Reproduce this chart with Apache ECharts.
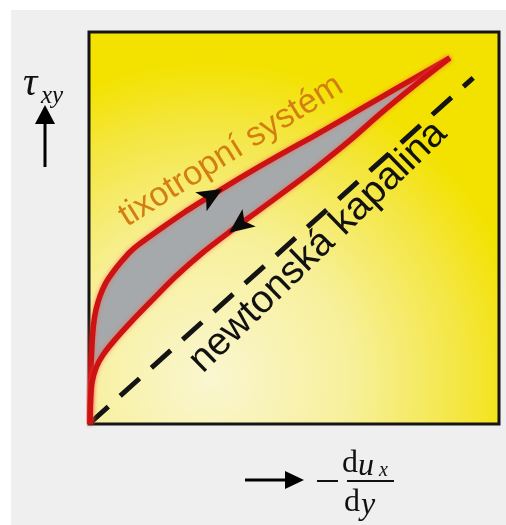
<!DOCTYPE html>
<html>
<head>
<meta charset="utf-8">
<script src="https://cdn.jsdelivr.net/npm/echarts@6/dist/echarts.min.js"></script>
<style>
  html, body { margin: 0; padding: 0; background: #ffffff; }
  #paper { position: absolute; left: 11px; top: 10px; right: 0; bottom: 0; background: #efefef; }
  #chart { position: absolute; left: 0; top: 0; width: 506px; height: 525px; }
</style>
</head>
<body>
<div id="paper"></div>
<div id="chart"></div>
<script>
// Shear stress vs. shear rate: thixotropic hysteresis loop and a Newtonian liquid.
// Both axes are normalised to 0..100.

// loading branch (upper curve)
const upX = [0.24, 0.37, 0.49, 0.73, 1.1, 1.7, 2.7, 4.1, 5.9, 7.8, 10.0, 12.4, 17.3, 23.4, 30.0, 38.0, 46.1, 54.4, 62.9, 71.0, 79.0, 88.0];
const upY = [0, 6.1, 13.8, 20.2, 25.3, 29.1, 32.7, 36.0, 38.8, 41.3, 43.9, 46.0, 49.7, 54.1, 58.4, 63.5, 68.4, 73.2, 78.3, 83.2, 88.0, 93.4];

// unloading branch (lower curve)
const downX = [0.24, 0.37, 0.73, 1.7, 3.4, 6.1, 10.5, 15.4, 21.0, 27.6, 33.9, 41.2, 49.5, 55.9, 63.7, 71.0, 79.0, 88.0];
const downY = [0, 6.1, 10.5, 14.3, 17.6, 21.2, 26.3, 31.6, 37.5, 43.6, 48.7, 54.3, 60.7, 65.8, 72.4, 79.1, 86.0, 93.4];

// Newtonian liquid: straight line through the origin
const newtonX = [0, 93.7];
const newtonY = [0, 88.3];

// direction arrows: [x, y, towards x, towards y]
const arrowMarks = [
  [29.4, 58.0, 33.4, 60.5],
  [37.1, 51.1, 33.0, 47.9]
];

const zip = (xs, ys) => xs.map((x, i) => [x, ys[i]]);
const upper = zip(upX, upY);
const lower = zip(downX, downY);
const newton = zip(newtonX, newtonY);

const chart = echarts.init(document.getElementById('chart'), null, { renderer: 'canvas' });

const serif = '"Liberation Serif", "DejaVu Serif", serif';
const sans = '"Liberation Sans", Arial, sans-serif';

const redLine = { color: '#cc1212', width: 5.5, shadowColor: 'rgba(255,90,70,0.7)', shadowBlur: 4 };

chart.setOption({
  animation: false,
  grid: {
    left: 89, top: 32, width: 410, height: 392,
    show: true,
    borderColor: '#151515',
    borderWidth: 3,
    backgroundColor: new echarts.graphic.RadialGradient(0.3, 0.88, 0.8, [
      { offset: 0, color: '#faf6d0' },
      { offset: 0.45, color: '#f7f09a' },
      { offset: 0.8, color: '#f4e640' },
      { offset: 1, color: '#f3e200' }
    ])
  },
  xAxis: { type: 'value', min: 0, max: 100, show: false },
  yAxis: { type: 'value', min: 0, max: 100, show: false },
  series: [
    {
      // grey area enclosed by the hysteresis loop
      type: 'custom',
      data: [0],
      clip: false,
      z: 1,
      renderItem: function (params, api) {
        const pts = upper.map(p => api.coord(p))
          .concat(lower.slice().reverse().map(p => api.coord(p)));
        return { type: 'polygon', shape: { points: pts }, style: { fill: '#a6a9ab' } };
      }
    },
    {
      type: 'line',
      data: newton,
      showSymbol: false,
      clip: false,
      z: 2,
      lineStyle: { color: '#141414', width: 5, type: [26, 16], cap: 'butt' }
    },
    {
      type: 'line',
      data: upper,
      smooth: 0.25,
      showSymbol: false,
      clip: false,
      z: 3,
      lineStyle: redLine
    },
    {
      type: 'line',
      data: lower,
      smooth: 0.25,
      showSymbol: false,
      clip: false,
      z: 3,
      lineStyle: redLine
    },
    {
      // arrowheads showing the direction of the loop
      type: 'custom',
      data: arrowMarks,
      clip: false,
      z: 4,
      renderItem: function (params, api) {
        const p = api.coord([api.value(0), api.value(1)]);
        const q = api.coord([api.value(2), api.value(3)]);
        const a = Math.atan2(q[1] - p[1], q[0] - p[0]);
        const L = 25, W = 11;
        const ca = Math.cos(a), sa = Math.sin(a);
        const tip = [p[0] + ca * L * 0.6, p[1] + sa * L * 0.6];
        const back = [p[0] - ca * L * 0.4, p[1] - sa * L * 0.4];
        return {
          type: 'polygon',
          shape: { points: [
            tip,
            [back[0] - sa * W, back[1] + ca * W],
            [back[0] + ca * 6, back[1] + sa * 6],
            [back[0] + sa * W, back[1] - ca * W]
          ] },
          style: { fill: '#0a0a0a' }
        };
      }
    }
  ],
  graphic: [
    {
      type: 'text', x: 231, y: 151, rotation: 32 * Math.PI / 180, z: 10,
      style: { text: 'tixotropní systém', fontFamily: sans, fontSize: 34, fill: '#d47e12', align: 'center', verticalAlign: 'middle' }
    },
    {
      type: 'text', x: 318, y: 247, rotation: 44.2 * Math.PI / 180, z: 10,
      style: { text: 'newtonská kapalina', fontFamily: sans, fontSize: 39, fill: '#111111', align: 'center', verticalAlign: 'middle' }
    },
    // vertical axis label
    {
      type: 'text', x: 23, y: 84, z: 10,
      style: { text: 'τ', fontFamily: serif, fontStyle: 'italic', fontSize: 40, fill: '#111', align: 'left', verticalAlign: 'middle' }
    },
    {
      type: 'text', x: 41, y: 96, z: 10,
      style: { text: 'xy', fontFamily: serif, fontStyle: 'italic', fontSize: 25, fill: '#111', align: 'left', verticalAlign: 'middle' }
    },
    {
      type: 'line', z: 10,
      shape: { x1: 45, y1: 167, x2: 45, y2: 120 },
      style: { stroke: '#000', lineWidth: 3 }
    },
    {
      type: 'polygon', z: 10,
      shape: { points: [[45, 105], [35, 124], [55, 124]] },
      style: { fill: '#000' }
    },
    // horizontal axis label
    {
      type: 'line', z: 10,
      shape: { x1: 245, y1: 480, x2: 288, y2: 480 },
      style: { stroke: '#000', lineWidth: 3 }
    },
    {
      type: 'polygon', z: 10,
      shape: { points: [[304, 480], [285, 471], [285, 489]] },
      style: { fill: '#000' }
    },
    {
      type: 'line', z: 10,
      shape: { x1: 317, y1: 481, x2: 338, y2: 481 },
      style: { stroke: '#111', lineWidth: 2 }
    },
    {
      type: 'line', z: 10,
      shape: { x1: 347, y1: 481, x2: 394, y2: 481 },
      style: { stroke: '#111', lineWidth: 2 }
    },
    {
      type: 'text', x: 342, y: 464, z: 10,
      style: { text: 'd', fontFamily: serif, fontSize: 32, fill: '#111', align: 'left', verticalAlign: 'middle' }
    },
    {
      type: 'text', x: 358, y: 467, z: 10,
      style: { text: 'u', fontFamily: serif, fontStyle: 'italic', fontSize: 32, fill: '#111', align: 'left', verticalAlign: 'middle' }
    },
    {
      type: 'text', x: 379, y: 471, z: 10,
      style: { text: 'x', fontFamily: serif, fontStyle: 'italic', fontSize: 20, fill: '#111', align: 'left', verticalAlign: 'middle' }
    },
    {
      type: 'text', x: 344, y: 503, z: 10,
      style: { text: 'd', fontFamily: serif, fontSize: 32, fill: '#111', align: 'left', verticalAlign: 'middle' }
    },
    {
      type: 'text', x: 361, y: 506, z: 10,
      style: { text: 'y', fontFamily: serif, fontStyle: 'italic', fontSize: 32, fill: '#111', align: 'left', verticalAlign: 'middle' }
    }
  ]
});
</script>
</body>
</html>
